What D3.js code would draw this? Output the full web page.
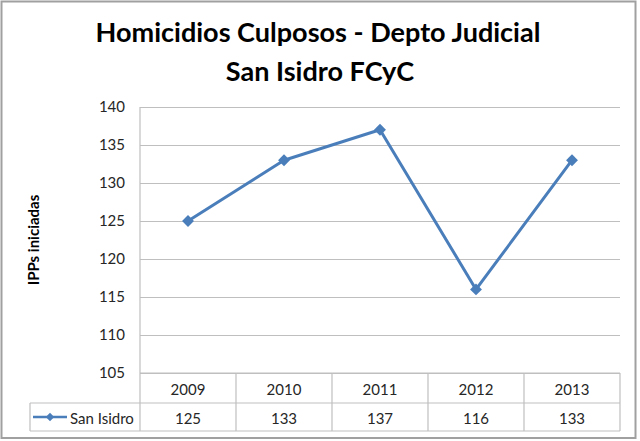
<!DOCTYPE html>
<html><head><meta charset="utf-8">
<script src="https://cdn.jsdelivr.net/npm/d3@7"></script>
<style>body{margin:0;background:#fff}svg{display:block}text{font-family:Lato,"Open Sans",sans-serif}</style>
</head><body>
<svg id="c" width="640" height="441"></svg>
<script>
const titleLines = ["Homicidios Culposos - Depto Judicial", "San Isidro FCyC"];
const yAxisTitle = "IPPs iniciadas";
const seriesName = "San Isidro";
const years = ["2009", "2010", "2011", "2012", "2013"];
const values = [125, 133, 137, 116, 133];
const yTicks = [105, 110, 115, 120, 125, 130, 135, 140];

const svg = d3.select("#c");
const blue = "#4a7ebb", grid = "#bfbfbf", txt = "#262626";
const pL = 140, pR = 620, pT = 107, pB = 373;
const row1 = 403, row2 = 431, legendLeft = 30;

// outer border
svg.append("rect").attr("x", 1.5).attr("y", 1.5).attr("width", 634).attr("height", 436.5)
  .attr("fill", "#fff").attr("stroke", "#a0a0a0").attr("stroke-width", 2);

// title
const t1 = svg.append("text").attr("x", 318).attr("y", 42).attr("text-anchor", "middle")
  .attr("font-weight", "bold").attr("fill", "#000").text(titleLines[0]);
let fs = 26; t1.attr("font-size", fs);
const tw = t1.node().getComputedTextLength();
fs = fs * 445 / tw; t1.attr("font-size", fs);
svg.append("text").attr("x", 320).attr("y", 81).attr("text-anchor", "middle")
  .attr("font-weight", "bold").attr("font-size", fs).attr("fill", "#000").text(titleLines[1]);

const y = d3.scaleLinear().domain([105, 140]).range([pB, pT]);
const x = d3.scaleBand().domain(years).range([pL, pR]);

// gridlines
const g = svg.append("g").attr("transform", `translate(${pL},0)`)
  .call(d3.axisLeft(y).tickValues(yTicks).tickSize(-(pR - pL)).tickFormat(d3.format("d")));
g.select(".domain").remove();
g.selectAll(".tick line").attr("stroke", grid).attr("stroke-width", 1.2);
g.selectAll(".tick text").attr("x", -15).attr("font-size", 15).attr("fill", txt)
  .attr("font-family", "Lato,sans-serif");

// vertical axis line
svg.append("line").attr("x1", pL).attr("x2", pL).attr("y1", pT).attr("y2", row2)
  .attr("stroke", grid).attr("stroke-width", 1.2);

// y title
svg.append("text").attr("transform", `translate(33,${(pT + pB) / 2}) rotate(-90)`)
  .attr("text-anchor", "middle").attr("dominant-baseline", "central")
  .attr("font-weight", "bold").attr("font-size", 15).attr("fill", "#000").text(yAxisTitle);

// data table lines
const tl = svg.append("g").attr("stroke", grid).attr("stroke-width", 1.2);
tl.append("line").attr("x1", pL).attr("x2", pR).attr("y1", pB).attr("y2", pB);
tl.append("line").attr("x1", legendLeft).attr("x2", pR).attr("y1", row1).attr("y2", row1);
tl.append("line").attr("x1", legendLeft).attr("x2", pR).attr("y1", row2).attr("y2", row2);
tl.append("line").attr("x1", legendLeft).attr("x2", legendLeft).attr("y1", row1).attr("y2", row2);
tl.selectAll(".col").data(years).enter().append("line")
  .attr("x1", d => x(d) + x.bandwidth()).attr("x2", d => x(d) + x.bandwidth())
  .attr("y1", pB).attr("y2", row2);

// table texts
svg.selectAll(".yr").data(years).enter().append("text")
  .attr("x", d => x(d) + x.bandwidth() / 2).attr("y", (pB + row1) / 2 + 1)
  .attr("text-anchor", "middle").attr("dominant-baseline", "central")
  .attr("font-size", 15).attr("fill", txt).text(d => d);
svg.selectAll(".val").data(values).enter().append("text")
  .attr("x", (d, i) => x(years[i]) + x.bandwidth() / 2).attr("y", (row1 + row2) / 2 + 1)
  .attr("text-anchor", "middle").attr("dominant-baseline", "central")
  .attr("font-size", 15).attr("fill", txt).text(d => d);

// legend key
const ly = (row1 + row2) / 2;
svg.append("line").attr("x1", 33).attr("x2", 67).attr("y1", ly).attr("y2", ly)
  .attr("stroke", blue).attr("stroke-width", 2.5);
svg.append("path").attr("d", d3.symbol(d3.symbolDiamond2, 45)())
  .attr("transform", `translate(50,${ly})`).attr("fill", blue);
svg.append("text").attr("x", 70).attr("y", ly + 1).attr("dominant-baseline", "central")
  .attr("font-size", 15).attr("fill", txt).text(seriesName);

// series line
const line = d3.line().x((d, i) => x(years[i]) + x.bandwidth() / 2).y(d => y(d));
svg.append("path").datum(values).attr("d", line).attr("fill", "none")
  .attr("stroke", blue).attr("stroke-width", 3).attr("stroke-linejoin", "round");
svg.selectAll(".pt").data(values).enter().append("path")
  .attr("d", d3.symbol(d3.symbolDiamond2, 90)())
  .attr("transform", (d, i) => `translate(${x(years[i]) + x.bandwidth() / 2},${y(d)})`)
  .attr("fill", blue);
</script>
</body></html>
